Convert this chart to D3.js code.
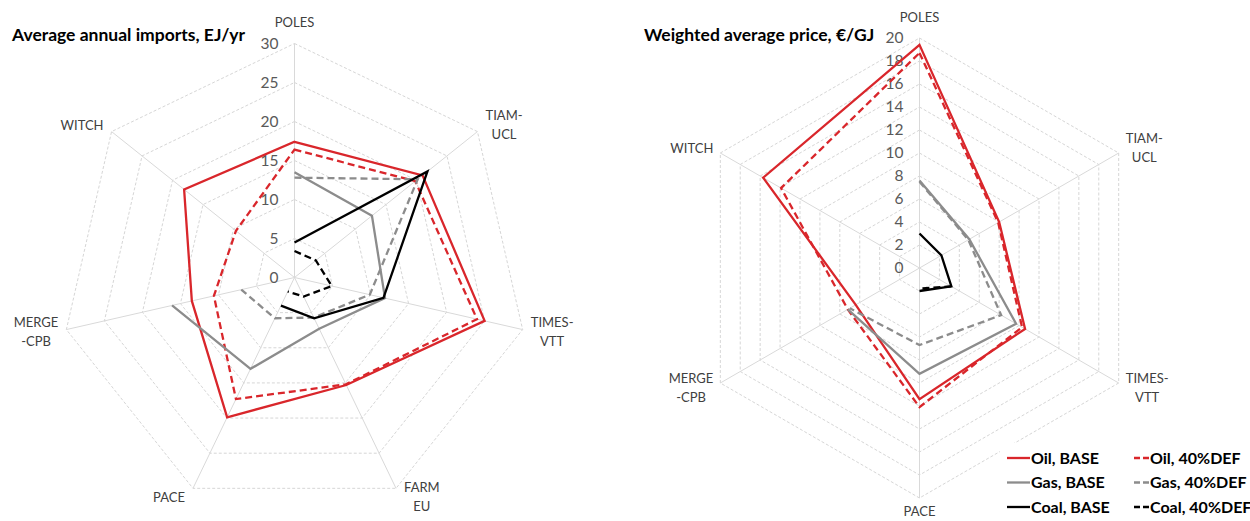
<!DOCTYPE html>
<html><head><meta charset="utf-8">
<script src="https://cdn.jsdelivr.net/npm/d3@7"></script>
<style>
body{margin:0;background:#fff;}
svg{display:block;font-family:Lato,'Open Sans',sans-serif;}
</style>
</head><body>
<svg id="chart" width="1250" height="521"></svg>
<script>
// ---------- DATA ----------
const importModels = ["POLES","TIAM-\nUCL","TIMES-\nVTT","FARM\nEU","PACE","MERGE\n-CPB","WITCH"];
const importTicks = [0,5,10,15,20,25,30];
const importOilBase  = [17.4, 21.0, 25.0, 15.3, 19.9, 13.5, 18.1];
const importOilDef   = [16.4, 19.8, 24.0, 15.2, 17.3, 10.6, 9.6];
const importGasBase  = [13.5, 12.7, 11.9, 7.3, 13.0, 16.1, null];
const importGasDef   = [12.8, 20.2, 9.9, 5.7, 5.8, 7.0, null];
const importCoalBase = [4.5, 21.8, 11.7, 5.8, 4.0, null, null];
const importCoalDef  = [3.4, 3.5, 4.9, 2.7, 2.0, null, null];

const priceModels = ["POLES","TIAM-\nUCL","TIMES-\nVTT","PACE","MERGE\n-CPB","WITCH"];
const priceTicks = [0,2,4,6,8,10,12,14,16,18,20];
const priceOilBase  = [19.4, 8.0, 10.6, 11.4, 6.4, 15.7];
const priceOilDef   = [18.7, 7.9, 10.3, 12.1, 7.2, 13.9];
const priceGasBase  = [7.6, 5.0, 9.7, 9.2, 7.2, null];
const priceGasDef   = [7.5, 4.9, 8.2, 6.7, 7.0, null];
const priceCoalBase = [3.0, 2.2, 3.2, 2.0, null, null];
const priceCoalDef  = [null, null, 3.2, 1.8, null, null];

const seriesNames = ["Oil, BASE","Oil, 40%DEF","Gas, BASE","Gas, 40%DEF","Coal, BASE","Coal, 40%DEF"];
const titles = ["Average annual imports, EJ/yr","Weighted average price, \u20AC/GJ"];

// ---------- STYLE ----------
const style = {
  colors: ["#d9262b","#d9262b","#8c8c8c","#8c8c8c","#000000","#000000"],
  dashed: [false,true,false,true,false,true],
  width: 2.3,
  dash: "7,4"
};

const svg = d3.select("#chart");

function drawRadar(cfg){
  const n = cfg.models.length;
  const maxV = d3.max(cfg.ticks);
  const r = d3.scaleLinear().domain([0,maxV]).range([0,cfg.R]);
  const ang = d3.scaleLinear().domain([0,n]).range([0,2*Math.PI]);
  const g = svg.append("g").attr("transform",`translate(${cfg.cx},${cfg.cy})`);

  // rings
  const ring = d3.lineRadial().angle((d,i)=>ang(i)).radius(d=>r(d)).curve(d3.curveLinearClosed);
  cfg.ticks.filter(t=>t>0).forEach(t=>{
    g.append("path").attr("d",ring(d3.range(n).map(()=>t)))
      .attr("fill","none").attr("stroke","#d6d6d6").attr("stroke-width",1)
      .attr("stroke-dasharray","3,2");
  });
  // spokes
  cfg.models.forEach((m,i)=>{
    const a = ang(i);
    g.append("line").attr("x1",0).attr("y1",0)
      .attr("x2",r(maxV)*Math.sin(a)).attr("y2",-r(maxV)*Math.cos(a))
      .attr("stroke","#d9d9d9").attr("stroke-width",1);
  });
  // tick labels
  cfg.ticks.forEach(t=>{
    g.append("text").attr("x",-16).attr("y",-r(t)).attr("dy","0.35em")
      .attr("text-anchor","end").attr("font-size",15.5).attr("fill","#595959").text(t);
  });
  // category labels
  cfg.models.forEach((m,i)=>{
    const a = ang(i), s = Math.sin(a), c = Math.cos(a);
    const vx = r(maxV)*s, vy = -r(maxV)*c;
    const lines = m.split("\n");
    const lh = 19;
    const t = g.append("text").attr("font-size",13).attr("fill","#404040").attr("text-anchor","middle");
    lines.forEach((l,k)=>t.append("tspan").attr("x",0).attr("dy",k===0?"0.35em":lh).text(l));
    const w = t.node().getBBox().width;
    let x, yc;
    if (Math.abs(s) < 0.1){
      x = vx; yc = c > 0 ? vy - 21 : vy + 13;
    } else {
      x = vx + Math.sign(s)*(cfg.gap + w/2);
      yc = vy - c*10;
    }
    const y0 = yc - (lines.length-1)*lh/2;
    t.attr("transform",`translate(${x},${y0})`);
  });
  // series
  cfg.series.forEach((vals,k)=>{
    const closed = vals.every(v=>v!=null);
    const line = d3.lineRadial().defined(d=>d!=null)
      .angle((d,i)=>ang(i)).radius(d=>r(d))
      .curve(closed?d3.curveLinearClosed:d3.curveLinear);
    g.append("path").attr("d",line(vals)).attr("fill","none")
      .attr("stroke",style.colors[k]).attr("stroke-width",style.width)
      .attr("stroke-linejoin","miter")
      .attr("stroke-dasharray",style.dashed[k]?style.dash:null);
  });
  // title
  svg.append("text").attr("x",cfg.titleX).attr("y",41).attr("font-size",17.5)
    .attr("font-weight","bold").attr("fill","#000").text(cfg.title);
}

drawRadar({cx:294.5, cy:277.5, R:234, gap:8, models:importModels, ticks:importTicks,
  series:[importOilBase,importOilDef,importGasBase,importGasDef,importCoalBase,importCoalDef],
  title:titles[0], titleX:12});

drawRadar({cx:919.5, cy:268, R:230, gap:7, models:priceModels, ticks:priceTicks,
  series:[priceOilBase,priceOilDef,priceGasBase,priceGasDef,priceCoalBase,priceCoalDef],
  title:titles[1], titleX:644});

// legend
const lg = svg.append("g");
lg.append("rect").attr("x",1000).attr("y",443).attr("width",250).attr("height",78).attr("fill","#fff");
seriesNames.forEach((name,k)=>{
  const col = k%2, row = Math.floor(k/2);
  const y = 458 + row*24.5;
  const x0 = col===0 ? 1007 : 1134;
  const x1 = col===0 ? 1030 : 1149;
  lg.append("line").attr("x1",x0).attr("x2",x1).attr("y1",y).attr("y2",y)
    .attr("stroke",style.colors[k]).attr("stroke-width",style.width)
    .attr("stroke-dasharray",style.dashed[k]?"6,3":null);
  lg.append("text").attr("x",x1+1).attr("y",y).attr("dy","0.35em")
    .attr("font-size",16).attr("font-weight","bold").attr("fill","#000").text(name);
});
</script>
</body></html>
